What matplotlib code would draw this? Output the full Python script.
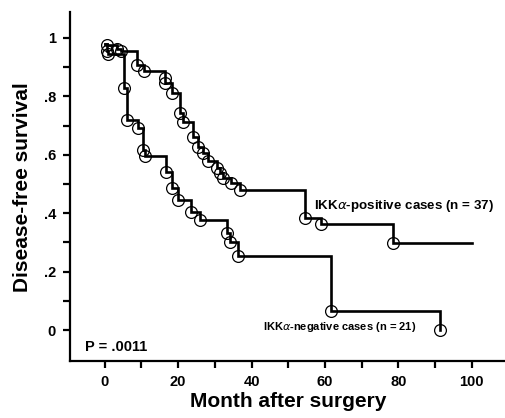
import matplotlib
matplotlib.use("Agg")
import matplotlib.pyplot as plt
from matplotlib.ticker import FixedLocator

plt.rcParams["font.family"] = ["Liberation Sans", "DejaVu Sans"]

# IKKa-positive (n = 37): step times and survival level after each step
POS_T = [0, 0.5, 3.3, 4.4, 8.7, 10.6, 16.3, 16.5, 18.2, 20.4, 21.3, 24.0, 25.4,
         26.8, 28.0, 30.7, 31.3, 32.2, 34.5, 36.8, 54.5, 59.0, 78.5]
POS_S = [0.98, 0.975, 0.962, 0.955, 0.907, 0.885, 0.862, 0.845, 0.81, 0.742, 0.713,
         0.662, 0.628, 0.605, 0.58, 0.554, 0.538, 0.521, 0.502, 0.48, 0.383, 0.363, 0.298]
POS_END = 100

# IKKa-negative (n = 21)
NEG_T = [0, 0.5, 1.0, 5.2, 6.2, 9.0, 10.3, 10.9, 16.8, 18.2, 20.0, 23.6, 25.9,
         33.2, 34.1, 36.3, 61.6, 91.3]
NEG_S = [0.98, 0.955, 0.945, 0.828, 0.72, 0.69, 0.616, 0.596, 0.542, 0.485, 0.445,
         0.405, 0.377, 0.331, 0.302, 0.255, 0.064, 0.0]

POS_LABEL = "IKK$\\alpha$-positive cases (n = 37)"
NEG_LABEL = "IKK$\\alpha$-negative cases (n = 21)"
P_TEXT = "P = .0011"
Y_TICKS = [0, 0.2, 0.4, 0.6, 0.8, 1.0]
Y_LABELS = ["0", ".2", ".4", ".6", ".8", "1"]

fig = plt.figure(figsize=(5.06, 4.18), dpi=100)
ax = fig.add_axes([0.138, 0.136, 0.862, 0.835])

def km(ax, t, s, end=None):
    xs = list(t)
    ys = list(s)
    if end is not None:
        xs.append(end)
        ys.append(s[-1])
    ax.plot(xs, ys, drawstyle="steps-post", color="black", lw=1.9, solid_joinstyle="miter")
    ax.plot(t[1:], s[1:], "o", mfc="none", mec="black", ms=8.5, mew=0.9)

km(ax, POS_T, POS_S, POS_END)
km(ax, NEG_T, NEG_S)

ax.set_xlim(-9.5, 109.3)
ax.set_ylim(-0.106, 1.088)
for sp in ["top", "right"]:
    ax.spines[sp].set_visible(False)
for sp in ["left", "bottom"]:
    ax.spines[sp].set_linewidth(1.6)

ax.xaxis.set_major_locator(FixedLocator([0, 20, 40, 60, 80, 100]))
ax.xaxis.set_minor_locator(FixedLocator([10, 30, 50, 70, 90]))
ax.set_yticks(Y_TICKS)
ax.set_yticklabels(Y_LABELS)
ax.yaxis.set_minor_locator(FixedLocator([0.1, 0.3, 0.5, 0.7, 0.9]))
ax.tick_params(which="both", direction="out", length=5, width=1.6)
ax.tick_params(which="major", labelsize=10.5, pad=5)
for lab in ax.get_xticklabels() + ax.get_yticklabels():
    lab.set_fontweight("bold")

ax.set_xlabel("Month after surgery", fontsize=15, fontweight="bold", labelpad=2)
ax.set_ylabel("Disease-free survival", fontsize=15, fontweight="bold", labelpad=8)

ax.text(57, 0.425, POS_LABEL, fontsize=9.6, fontweight="bold", va="center")
ax.text(43, 0.01, NEG_LABEL, fontsize=8, fontweight="bold", va="center")
ax.text(-5.3, -0.056, P_TEXT, fontsize=10.5, fontweight="bold", va="center")

fig.savefig("out.png", dpi=100)
